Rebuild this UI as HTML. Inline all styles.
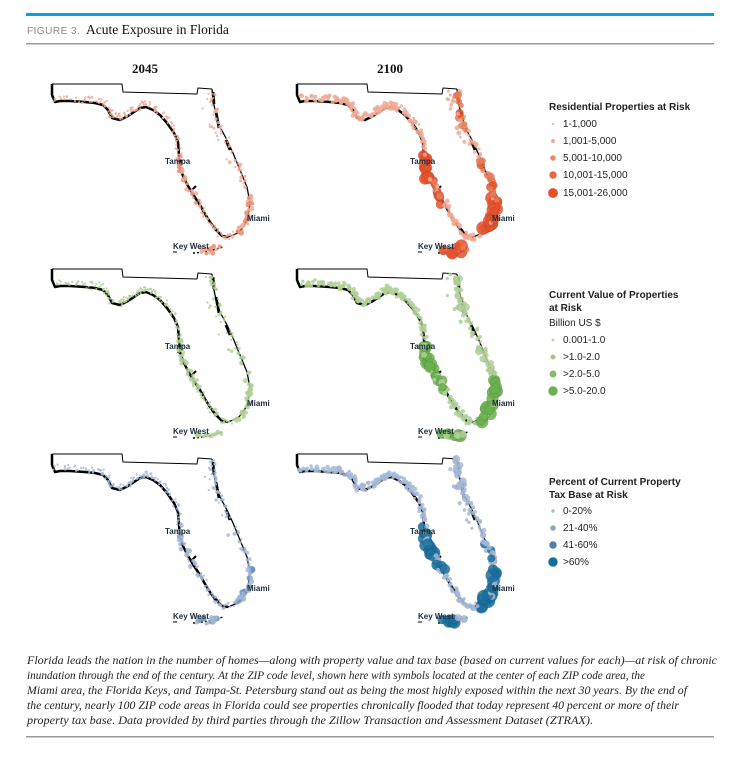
<!DOCTYPE html>
<html><head><meta charset="utf-8"><style>
body{margin:0;background:#fff}
svg{display:block}
.t{font-family:"Liberation Sans",sans-serif;font-size:10px;fill:#222}
.b{font-weight:bold}
.lab{font-family:"Liberation Sans",sans-serif;font-size:8px;font-weight:bold;fill:#1d2b3a}
.cap{font-family:"Liberation Serif",serif;font-style:italic;font-size:11.5px;fill:#222}
</style></head><body>
<svg id="s" width="747" height="757" xmlns="http://www.w3.org/2000/svg">
<rect x="26" y="13" width="688" height="3" fill="#0aa0dc"/>
<text x="27" y="34" font-family="Liberation Sans,sans-serif" font-size="10" fill="#888" letter-spacing="0.5">FIGURE 3.</text>
<text x="86" y="34" font-family="Liberation Serif,serif" font-size="13.5" fill="#111">Acute Exposure in Florida</text>
<rect x="26" y="43" width="688" height="1.5" fill="#999"/>
<text x="145" y="73" text-anchor="middle" font-family="Liberation Serif,serif" font-weight="bold" font-size="13" fill="#111">2045</text>
<text x="390" y="73" text-anchor="middle" font-family="Liberation Serif,serif" font-weight="bold" font-size="13" fill="#111">2100</text>
<defs>
<g id="fl">
<path d="M52,84 L122,84 L123,92 L197,94 L198,88 L212,89" fill="none" stroke="#000" stroke-width="1"/>
<path d="M212,89 L213,100 L216,115 L220,127 L227,140 L233,153 L240,170 L247,187 L250,203 L248,217 L244,226 L238,233 L228,237" fill="none" stroke="#000" stroke-width="1.3"/>
<path d="M216,112 L219,128 M226,140 L230,150 M213,92 L214,104" stroke="#000" stroke-width="2.8" fill="none"/>
<path d="M228,237 L222,236 L215,229 L210,222 L205,214 L200,205 L194,196 L188,186 L183,176 L180,167 L179,155 L178,142 L174,133 L167,123 L160,115 L153,110 L146,107 L140,108 L134,112 L128,116 L120,120 L112,118 L108,110 L103,105 L95,103 L85,102 L70,101 L60,101 L55,102 L52,95 L52,84" fill="none" stroke="#000" stroke-width="2.5" stroke-linejoin="round"/>
<path d="M108,111 L113,118 M178,168 L182,160 M192,190 L196,186 M212,225 L218,231" stroke="#000" stroke-width="2" fill="none"/>
<path d="M193,253 Q208,252 223,247" fill="none" stroke="#000" stroke-width="1.5" stroke-dasharray="2,2"/>
<path d="M173,252 L177,252" stroke="#000" stroke-width="1"/>
</g>
</defs>
<g id="maps"></g>
<g id="dots"></g>
<g id="labels"></g>
<text class="t b" x="549" y="110">Residential Properties at Risk</text>
<circle cx="553" cy="124" r="1.2" fill="#f0b8a8"/><text class="t" x="563" y="127">1-1,000</text>
<circle cx="553" cy="141" r="1.9" fill="#eea08a"/><text class="t" x="563" y="144">1,001-5,000</text>
<circle cx="553" cy="158" r="2.8" fill="#ea8a68"/><text class="t" x="563" y="161">5,001-10,000</text>
<circle cx="553" cy="175" r="3.7" fill="#e86a45"/><text class="t" x="563" y="178">10,001-15,000</text>
<circle cx="553" cy="193" r="4.9" fill="#e4502a"/><text class="t" x="563" y="196">15,001-26,000</text>
<text class="t b" x="549" y="298">Current Value of Properties</text>
<text class="t b" x="549" y="311">at Risk</text>
<text class="t" x="549" y="326">Billion US $</text>
<circle cx="553" cy="340" r="1.4" fill="#b8d4a0"/><text class="t" x="563" y="343">0.001-1.0</text>
<circle cx="553" cy="357" r="2.5" fill="#a0c888"/><text class="t" x="563" y="360">&gt;1.0-2.0</text>
<circle cx="553" cy="374" r="3.5" fill="#84bc68"/><text class="t" x="563" y="377">&gt;2.0-5.0</text>
<circle cx="553" cy="391" r="4.7" fill="#6ab04c"/><text class="t" x="563" y="394">&gt;5.0-20.0</text>
<text class="t b" x="549" y="485">Percent of Current Property</text>
<text class="t b" x="549" y="498">Tax Base at Risk</text>
<circle cx="553" cy="511" r="1.7" fill="#a8bcd8"/><text class="t" x="563" y="514">0-20%</text>
<circle cx="553" cy="528" r="2.8" fill="#8ca6c8"/><text class="t" x="563" y="531">21-40%</text>
<circle cx="553" cy="545" r="3.7" fill="#4e80a8"/><text class="t" x="563" y="548">41-60%</text>
<circle cx="553" cy="562" r="4.7" fill="#126e9e"/><text class="t" x="563" y="565">&gt;60%</text>
<text class="cap" x="27" y="664" textLength="690" lengthAdjust="spacingAndGlyphs">Florida leads the nation in the number of homes—along with property value and tax base (based on current values for each)—at risk of chronic</text>
<text class="cap" x="27" y="679" textLength="618" lengthAdjust="spacingAndGlyphs">inundation through the end of the century. At the ZIP code level, shown here with symbols located at the center of each ZIP code area, the</text>
<text class="cap" x="27" y="694" textLength="660" lengthAdjust="spacingAndGlyphs">Miami area, the Florida Keys, and Tampa-St. Petersburg stand out as being the most highly exposed within the next 30 years. By the end of</text>
<text class="cap" x="27" y="709" textLength="652" lengthAdjust="spacingAndGlyphs">the century, nearly 100 ZIP code areas in Florida could see properties chronically flooded that today represent 40 percent or more of their</text>
<text class="cap" x="27" y="724" textLength="566" lengthAdjust="spacingAndGlyphs">property tax base. Data provided by third parties through the Zillow Transaction and Assessment Dataset (ZTRAX).</text>
<rect x="26" y="736" width="688" height="1.5" fill="#999"/>
</svg>
<script>
var NS="http://www.w3.org/2000/svg";
var maps=document.getElementById("maps"),dots=document.getElementById("dots"),labs=document.getElementById("labels");
var coast=[[55,100],[70,100],[85,101],[95,102],[103,104],[108,109],[112,117],[120,119],[128,115],[134,111],[140,107],[146,106],[153,109],[160,114],[167,122],[174,132],[178,142],[179,155],[180,167],[183,176],[188,186],[194,196],[200,205],[205,214],[210,222],[215,229],[222,236],[228,237],[238,233],[244,226],[248,217],[250,203],[247,187],[240,170],[233,153],[227,140],[220,127],[216,115],[213,100],[212,90],[196,250],[208,251],[220,248]];
var seed=7;function r(){seed=(seed*16807)%2147483647;return seed/2147483647;}
function el(n,a){var e=document.createElementNS(NS,n);for(var k in a)e.setAttribute(k,a[k]);return e;}
function hot(x,y){
 var h=0;
 if(x>236&&y>195&&y<238)h=1;
 if(y>244)h=0.95;
 if(x>174&&x<192&&y>155&&y<190)h=Math.max(h,0.8);
 if(x>190&&x<200&&y>190&&y<205)h=Math.max(h,0.7);
 if(x>220&&x<250&&y>160&&y<200)h=Math.max(h,0.45);
 if(x>210&&x<225&&y>88&&y<130)h=Math.max(h,0.35);
 return h;}
var pal=[["#f0aa95","#e4502a"],["#b0d098","#6ab04c"],["#a4b8d6","#126e9e"]];
var legx=[0,245],legy=[0,185,370];
for(var row=0;row<3;row++)for(var col=0;col<2;col++){
 var dx=legx[col],dy=legy[row];
 maps.appendChild(el("use",{href:"#fl",x:dx,y:dy}));
 seed=11+row*3+col;
 for(var i=0;i<coast.length-1;i++){
  if(i==39)continue;
  var a=coast[i],b=coast[i+1];
  var n=col?9:8;
  for(var j=0;j<n;j++){
   var t=r();var x=a[0]+(b[0]-a[0])*t,y=a[1]+(b[1]-a[1])*t;
   var jx=(r()-0.5)*6,jy=(r()-0.5)*6;
   if(x<175)jy-=r()*3;
   if(i>=33&&i<39&&r()<0.3)jx-=r()*10;
   x+=jx;y+=jy;
   var h=hot(x,y);var rad,fill,op;
   if(col==0){rad=1.1+h*1.8*r();fill=pal[row][0];op=0.85;
     if(row==0&&h>0.6&&r()<0.4)fill="#ea8a68";
     if(row==2&&h>0.9&&r()<0.3){rad=3;fill="#6e94bc";}}
   else{var v=h*r()+0.2*r();rad=1.4+v*5;
     fill=v>0.5?pal[row][1]:pal[row][0];op=0.85;
     if(row==0&&v>0.25&&v<=0.5)fill="#ea7a55";
     if(row==2&&v>0.5)fill="#1a6f9c";}
   dots.appendChild(el("circle",{cx:x+dx,cy:y+dy,r:rad.toFixed(1),fill:fill,"fill-opacity":op,stroke:(col&&rad>3)?"#00000030":"none","stroke-width":0.4}));
  }
 }
 [["Tampa",165,164],["Miami",247,221],["Key West",173,249]].forEach(function(L){
  var tx=el("text",{"class":"lab",x:L[1]+dx,y:L[2]+dy});tx.textContent=L[0];labs.appendChild(tx);});
}
</script>
</body></html>
